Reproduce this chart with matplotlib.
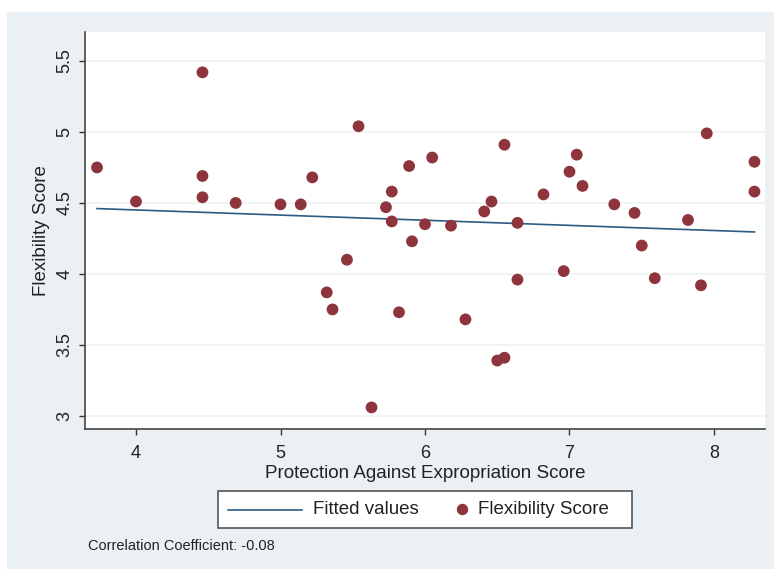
import matplotlib
matplotlib.use("Agg")
import matplotlib.pyplot as plt
from matplotlib.patches import Rectangle
from matplotlib.lines import Line2D
import numpy as np

plt.rcParams['font.family'] = ['Liberation Sans', 'DejaVu Sans']

# protection against expropriation vs flexibility score
protection = [3.73, 4.00, 4.46, 4.46, 4.46, 4.69, 5.00, 5.14, 5.22, 5.32,
              5.36, 5.46, 5.54, 5.63, 5.73, 5.77, 5.77, 5.82, 5.89, 5.91,
              6.00, 6.05, 6.18, 6.28, 6.41, 6.46, 6.50, 6.55, 6.55, 6.64,
              6.64, 6.82, 6.96, 7.00, 7.05, 7.09, 7.31, 7.45, 7.50, 7.59,
              7.82, 7.91, 7.95, 8.28, 8.28]
flexibility = [4.75, 4.51, 5.42, 4.69, 4.54, 4.50, 4.49, 4.49, 4.68, 3.87,
               3.75, 4.10, 5.04, 3.06, 4.47, 4.58, 4.37, 3.73, 4.76, 4.23,
               4.35, 4.82, 4.34, 3.68, 4.44, 4.51, 3.39, 4.91, 3.41, 4.36,
               3.96, 4.56, 4.02, 4.72, 4.84, 4.62, 4.49, 4.43, 4.20, 3.97,
               4.38, 3.92, 4.99, 4.79, 4.58]
corr_text = "Correlation Coefficient: -0.08"
line_label = "Fitted values"
dot_label = "Flexibility Score"

LINE_C = '#2c5b84'
DOT_C = '#8e343d'
TXT_C = '#222222'

x = np.array(protection)
y = np.array(flexibility)
slope, intercept = np.polyfit(x, y, 1)
xfit = np.array([x.min(), x.max()])
yfit = intercept + slope * xfit

W, H = 774, 570
fig = plt.figure(figsize=(W / 100, H / 100), dpi=100)
fig.patch.set_facecolor('white')


def fx(px):
    return px / W


def fy(py):
    return 1 - py / H


# stata-style graph region
fig.patches.append(Rectangle((fx(7), fy(569)), 1, (569 - 12) / H, transform=fig.transFigure,
                             facecolor='#eaf0f3', edgecolor='none', zorder=-10))

ax = fig.add_axes([fx(85), fy(429), (765 - 85) / W, (429 - 32) / H])
ax.set_facecolor('white')

ax.plot(xfit, yfit, color=LINE_C, lw=1.2, zorder=2)
ax.scatter(x, y, s=72, color=DOT_C, edgecolors='none', zorder=3)

ax.set_xlim(3.647, 8.353)
ax.set_ylim(2.908, 5.704)
ax.set_xticks([4, 5, 6, 7, 8])
ax.set_yticks([3, 3.5, 4, 4.5, 5, 5.5])
ax.set_yticklabels(['3', '3.5', '4', '4.5', '5', '5.5'], rotation=90, va='center')
ax.tick_params(axis='both', direction='out', length=4.2, width=1, colors='#333333',
               labelsize=13, labelcolor=TXT_C)
ax.tick_params(axis='x', pad=7)
ax.tick_params(axis='y', pad=4)
ax.grid(axis='y', color='#eef2f4', lw=1.2)
ax.set_axisbelow(True)

for side in ['top', 'right']:
    ax.spines[side].set_visible(False)
for side in ['left', 'bottom']:
    ax.spines[side].set_color('#444444')
    ax.spines[side].set_linewidth(1.2)

ax.set_xlabel('Protection Against Expropriation Score', fontsize=13.5, color=TXT_C, labelpad=2.5)
ax.set_ylabel('Flexibility Score', fontsize=13.5, color=TXT_C, labelpad=4.5)

# legend box below the plot
fig.patches.append(Rectangle((fx(218), fy(528)), (632 - 218) / W, (528 - 491) / H,
                             transform=fig.transFigure, facecolor='white',
                             edgecolor='#555555', lw=1.2, zorder=5))
fig.lines.append(Line2D([fx(228), fx(302)], [fy(509.5), fy(509.5)], transform=fig.transFigure,
                        color=LINE_C, lw=1.2, zorder=6))
fig.lines.append(Line2D([fx(462)], [fy(509)], transform=fig.transFigure, marker='o',
                        markersize=8.2, color=DOT_C, markeredgewidth=0, ls='none', zorder=6))
fig.text(fx(313), fy(510), line_label, fontsize=13.5, color=TXT_C, va='center', zorder=6)
fig.text(fx(478), fy(510), dot_label, fontsize=13.5, color=TXT_C, va='center', zorder=6)

fig.text(fx(88), fy(546), corr_text, fontsize=10.5, color=TXT_C, va='center')

fig.savefig('out.png', dpi=100, facecolor=fig.get_facecolor())
